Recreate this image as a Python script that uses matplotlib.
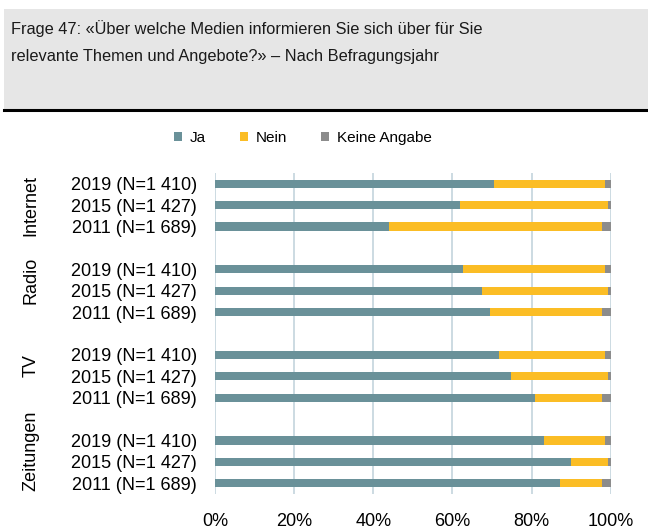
import numpy as np
import matplotlib.pyplot as plt
from matplotlib.patches import Rectangle

plt.rcParams['font.family'] = ['Liberation Sans', 'DejaVu Sans']

# ------------------------------------------------------------------
# Daten (Anteile in %)
# ------------------------------------------------------------------
medien = ["Internet", "Radio", "TV", "Zeitungen"]
jahre = ["2019 (N=1 410)", "2015 (N=1 427)", "2011 (N=1 689)"]

ja = [70.6, 62.0, 44.0,
      62.7, 67.5, 69.4,
      71.8, 74.8, 80.9,
      83.1, 90.0, 87.2]
nein = [28.0, 37.2, 53.7,
        35.9, 31.7, 28.3,
        26.8, 24.4, 16.8,
        15.5, 9.2, 10.5]
keine_angabe = [1.4, 0.8, 2.3,
                1.4, 0.8, 2.3,
                1.4, 0.8, 2.3,
                1.4, 0.8, 2.3]

farbe_ja = '#6a9199'
farbe_nein = '#fbbd25'
farbe_ka = '#8c8c8c'

# Positionen: je Gruppe 3 Balken + 1 leerer Platz
pos = []
for g in range(len(medien)):
    for j in range(len(jahre)):
        pos.append(g * 4 + j)
pos = np.array(pos)

fig = plt.figure(figsize=(6.48, 5.31), dpi=100)

# Titelbox
fig.patches.append(Rectangle((4 / 648, 1 - 109 / 531), 1, 100 / 531,
                             transform=fig.transFigure, facecolor='#e6e6e6',
                             edgecolor='none', zorder=0))
fig.lines.append(plt.Line2D([4 / 648, 1], [1 - 110 / 531, 1 - 110 / 531],
                            transform=fig.transFigure, color='black', linewidth=2.2))
fig.text(11 / 648, 1 - 29 / 531,
         "Frage 47: «Über welche Medien informieren Sie sich über für Sie",
         ha='left', va='center', fontsize=11.8, color='#1a1a1a')
fig.text(11 / 648, 1 - 56 / 531,
         "relevante Themen und Angebote?» – Nach Befragungsjahr",
         ha='left', va='center', fontsize=11.8, color='#1a1a1a')

ax = fig.add_axes([215 / 648, 1 - 494 / 531, 395.7 / 648, 321 / 531])

h = 0.39
ja = np.array(ja)
nein = np.array(nein)
keine_angabe = np.array(keine_angabe)
ax.barh(pos, ja, height=h, color=farbe_ja, label='Ja', zorder=2)
ax.barh(pos, nein, left=ja, height=h, color=farbe_nein, label='Nein', zorder=2)
ax.barh(pos, keine_angabe, left=ja + nein, height=h, color=farbe_ka,
        label='Keine Angabe', zorder=2)

ax.set_xlim(0, 100)
ax.set_ylim(len(medien) * 4 - 1.5, -0.5)
ax.set_xticks(np.arange(0, 101, 20))
ax.set_xticklabels([f"{v}%" for v in range(0, 101, 20)], fontsize=13)
ax.set_yticks(pos)
ax.set_yticklabels(jahre * len(medien), fontsize=13)
ax.tick_params(axis='both', length=0)
ax.tick_params(axis='x', pad=14)
ax.tick_params(axis='y', pad=13)
ax.grid(axis='x', color='#c8d8df', linewidth=1.3, zorder=0)
for s in ax.spines.values():
    s.set_visible(False)

# Gruppenbeschriftung (gedreht)
for g, name in enumerate(medien):
    y = g * 4 + 1 - (0.5 if g > 0 else 0.0)
    ax.text(-0.465, y, name, transform=ax.get_yaxis_transform(), rotation=90,
            ha='center', va='center', fontsize=13)

fig.legend(loc='center left', bbox_to_anchor=(160 / 648, 1 - 138 / 531), ncol=3,
           frameon=False, fontsize=11, handlelength=0.55, handleheight=0.55,
           handletextpad=0.5, columnspacing=2.2)

fig.savefig('out.png', dpi=100)
